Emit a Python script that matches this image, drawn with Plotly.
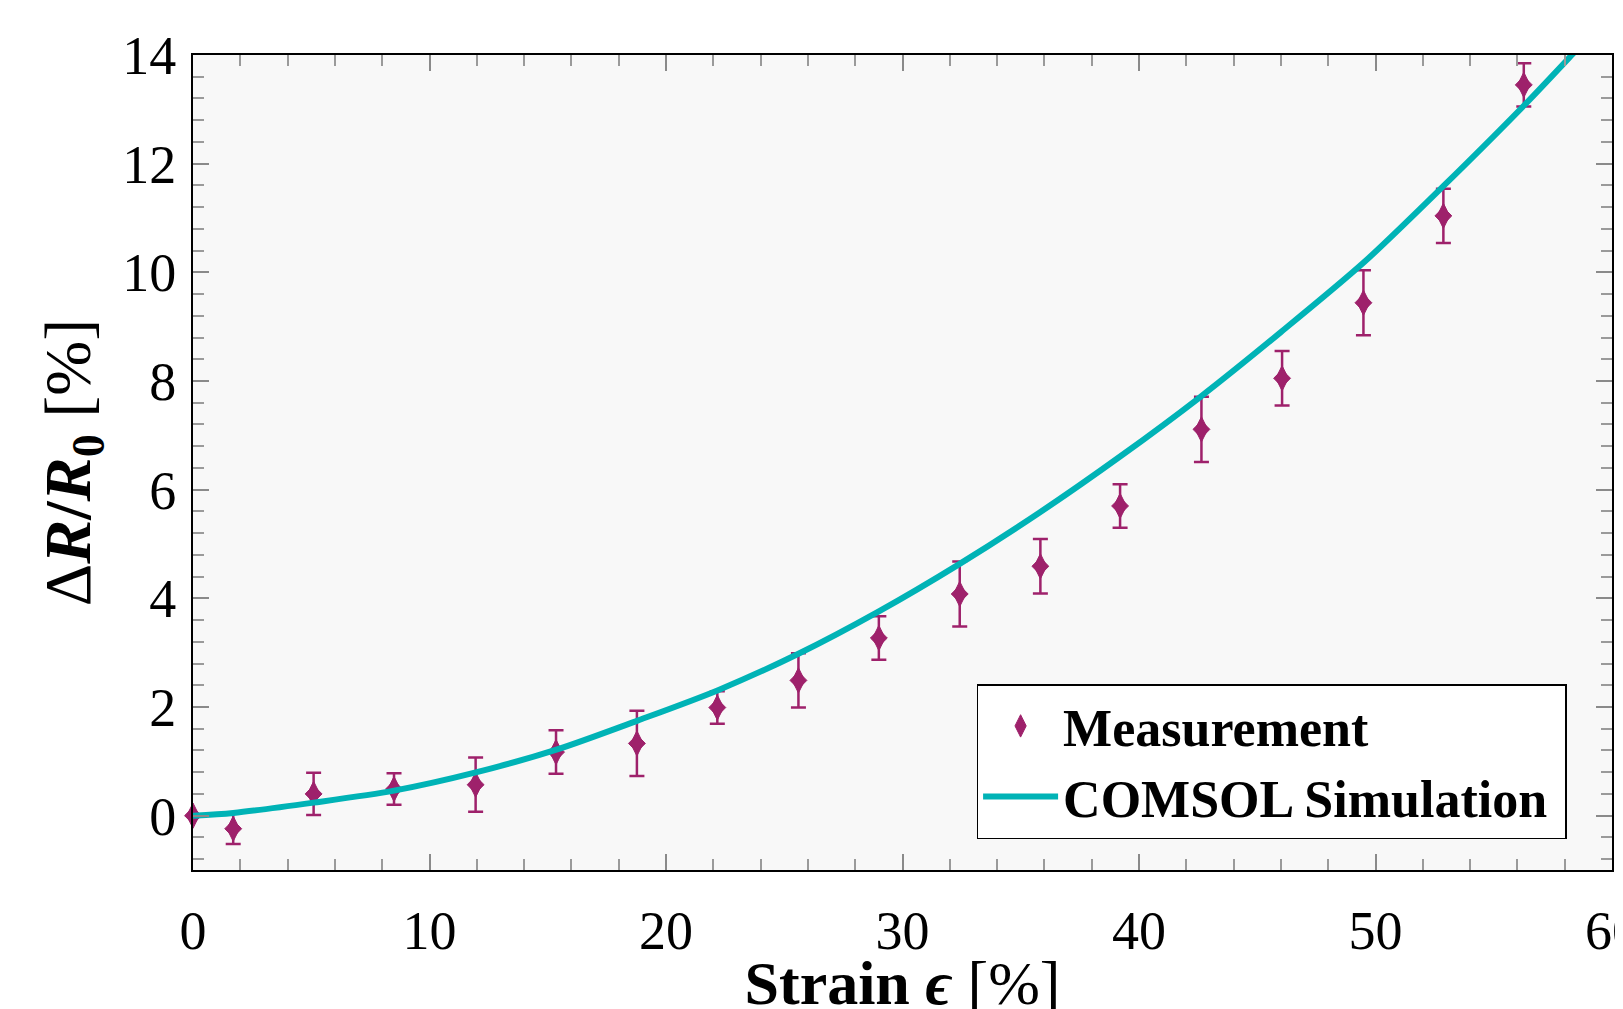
import plotly.graph_objects as go

# Measurement data (strain %, dR/R0 %, error)
meas_x = [0.0, 1.7, 5.1, 8.5, 11.95, 15.35, 18.77, 22.17, 25.6, 29.0, 32.42, 35.83,
          39.2, 42.64, 46.05, 49.49, 52.87, 56.27]
meas_y = [0.0, -0.24, 0.40, 0.49, 0.57, 1.17, 1.33, 1.99, 2.49, 3.27, 4.08, 4.59,
          5.70, 7.11, 8.05, 9.44, 11.04, 13.45]
meas_err = [0.0, 0.28, 0.39, 0.29, 0.50, 0.40, 0.60, 0.30, 0.50, 0.40, 0.60, 0.50,
            0.40, 0.60, 0.50, 0.60, 0.50, 0.40]

# COMSOL simulation curve
sim_x = [0.0, 1.7, 5.1, 8.5, 12.0, 15.4, 18.8, 22.2, 25.6, 29.0, 32.4, 35.8,
         39.2, 42.6, 46.0, 49.5, 52.9, 56.3, 58.3, 60.0]
sim_y = [0.0, 0.05, 0.24, 0.46, 0.80, 1.22, 1.75, 2.31, 2.98, 3.76, 4.63, 5.58,
         6.61, 7.71, 8.90, 10.18, 11.60, 13.08, 14.0, 14.8]

x_ticks = [0, 10, 20, 30, 40, 50, 60]
y_ticks = [0, 2, 4, 6, 8, 10, 12, 14]

PURPLE = "#9E216B"
TEAL = "#00B3B6"
FONT = "Liberation Serif"

fig = go.Figure()
fig.add_trace(go.Scatter(
    x=meas_x, y=meas_y, mode="markers", name="<b>Measurement</b>",
    marker=dict(symbol="diamond-tall", size=18, color=PURPLE,
                line=dict(color=PURPLE, width=1)),
    error_y=dict(type="data", array=meas_err, visible=True, color=PURPLE,
                 thickness=2.5, width=7.5),
    cliponaxis=False,
))
# widen the diamond body (same data, no legend entry)
fig.add_trace(go.Scatter(
    x=meas_x, y=meas_y, mode="markers", showlegend=False, hoverinfo="skip",
    marker=dict(symbol="diamond", size=13, color=PURPLE,
                line=dict(color=PURPLE, width=1)),
    cliponaxis=False,
))
fig.add_trace(go.Scatter(
    x=sim_x, y=sim_y, mode="lines", name="<b>COMSOL Simulation</b>\u00a0",
    line=dict(color=TEAL, width=6, shape="spline", smoothing=0.8),
))

axis_common = dict(
    showgrid=False, zeroline=False, automargin=False,
    showline=True, linecolor="black", linewidth=2, mirror="ticks",
    ticks="inside", ticklen=16, tickwidth=1.5, tickcolor="#8a8a8a",
    tickfont=dict(family=FONT, size=54, color="black"),
    ticklabeloverflow="allow",
)

fig.update_xaxes(
    **axis_common,
    range=[0, 60], tickvals=x_ticks,
    minor=dict(dtick=2, ticks="inside", ticklen=11, tickwidth=1.5, tickcolor="#9a9a9a"),
    ticklabelstandoff=12,
    title=dict(text="<b>Strain <i>ϵ</i></b> [%]",
               font=dict(family=FONT, size=62, color="black"), standoff=18),
)
fig.update_yaxes(
    **axis_common,
    range=[-1, 14], tickvals=y_ticks,
    minor=dict(dtick=0.4, ticks="inside", ticklen=11, tickwidth=1.5, tickcolor="#9a9a9a"),
    ticklabelstandoff=4,
    title=dict(text="Δ<b><i>R</i>/<i>R</i><sub>0</sub></b> [%]",
               font=dict(family=FONT, size=66, color="black"), standoff=10),
)

fig.update_layout(
    width=1623, height=1009,
    margin=dict(l=185, r=19, t=47, b=147, autoexpand=False),
    paper_bgcolor="white", plot_bgcolor="#F8F8F8",
    font=dict(family=FONT, color="black"),
    legend=dict(
        x=0.968, xanchor="right", y=0.133, yanchor="middle",
        bgcolor="white", bordercolor="black", borderwidth=1.5,
        font=dict(family=FONT, size=52, color="black"),
        itemwidth=75, tracegroupgap=0,
    ),
    showlegend=True,
)

fig.write_html("out.html")
